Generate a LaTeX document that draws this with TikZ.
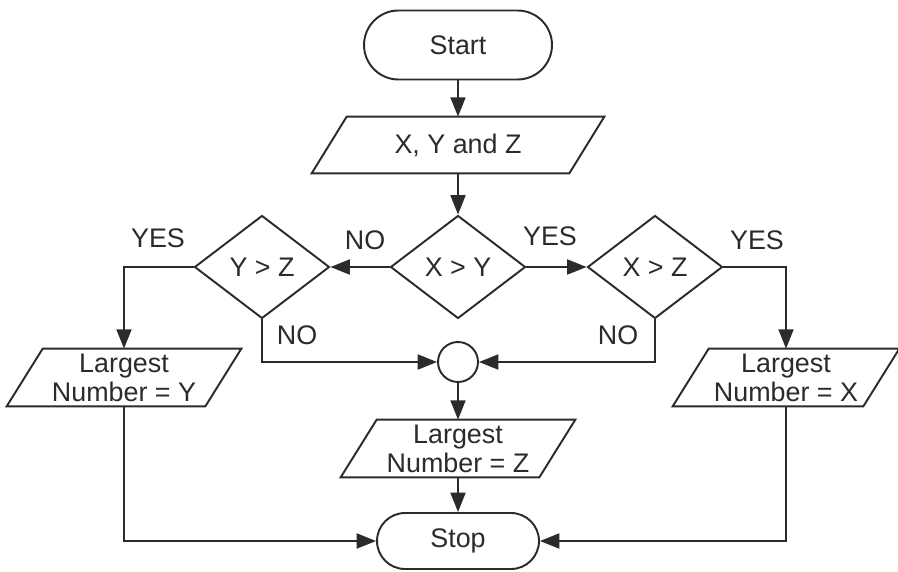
\documentclass[tikz,border=0pt]{standalone}
\usepackage{fontspec}
\setmainfont{Liberation Sans}
\usetikzlibrary{shapes.geometric,shapes.misc,arrows.meta}
\definecolor{ink}{HTML}{2B2B2B}
\begin{document}
\begin{tikzpicture}[x=0.02cm,y=-0.02cm,
  font=\fontsize{15.3}{16.4}\selectfont,
  every node/.style={text=ink},
  line/.style={draw=ink,line width=1.1pt},
  flow/.style={line,-{Triangle[length=11pt,width=8.5pt]}},
  terminal/.style={line,rounded rectangle,inner sep=0pt},
  decision/.style={line,diamond,aspect=1.31,minimum width=2.7cm,minimum height=2.06cm,inner sep=0pt},
  iotext/.style={align=center,minimum height=1.14cm,inner sep=0pt},
  iobox/.style={line,line join=miter},
  junction/.style={line,circle,minimum size=0.8cm,inner sep=0pt},
  tag/.style={inner sep=0pt}]

% canvas
\fill[white] (0,0) rectangle (898,571);
\useasboundingbox (0,0) rectangle (898,571);

% terminals
\node[terminal,minimum width=3.76cm,minimum height=1.38cm] (start) at (458,45) {Start};
\node[terminal,minimum width=3.24cm,minimum height=1.12cm] (stop) at (458,541) {Stop};

% input box
\node[iotext,minimum width=5.84cm,minimum height=1.12cm] (xyz) at (458,145) {X, Y and Z};
\draw[iobox] ([xshift=0.70cm]xyz.north west) -- (xyz.north east)
  -- ([xshift=-0.70cm]xyz.south east) -- (xyz.south west) -- cycle;

% decisions
\node[decision] (xy) at (458,267) {X > Y};
\node[decision] (yz) at (262,267) {Y > Z};
\node[decision] (xz) at (655,267) {X > Z};

% junction
\node[junction] (join) at (458,362) {};

% output boxes
\node[iotext,minimum width=4.68cm] (py) at (124,377.5) {Largest\\Number = Y};
\node[iotext,minimum width=4.52cm] (px) at (786,377.5) {Largest\\Number = X};
\node[iotext,minimum width=4.68cm] (pz) at (458,448.5) {Largest\\Number = Z};
\foreach \n in {py,px,pz}{
  \draw[iobox] ([xshift=0.72cm]\n.north west) -- (\n.north east)
    -- ([xshift=-0.72cm]\n.south east) -- (\n.south west) -- cycle;
}

% connectors
\draw[flow] (start.south) -- (xyz.north);
\draw[flow] (xyz.south) -- (xy.north);
\draw[flow] (xy.west) -- (yz.east);
\draw[flow] (xy.east) -- (xz.west);
\draw[flow] (yz.west) -| (py.north);
\draw[flow] (xz.east) -| (px.north);
\draw[flow] (yz.south) |- (join.west);
\draw[flow] (xz.south) |- (join.east);
\draw[flow] (join.south) -- (pz.north);
\draw[flow] (pz.south) -- (stop.north);
\draw[flow] (py.south) |- (stop.west);
\draw[flow] (px.south) |- (stop.east);

% branch labels
\node[tag] (yesyz) at (158,238) {YES};
\node[tag] (noxy)  at (365,240) {NO};
\node[tag] (yesxy) at (550,236) {YES};
\node[tag] (yesxz) at (757,240) {YES};
\node[tag] (noyz)  at (297,335) {NO};
\node[tag] (noxz)  at (618,335) {NO};
\end{tikzpicture}
\end{document}
